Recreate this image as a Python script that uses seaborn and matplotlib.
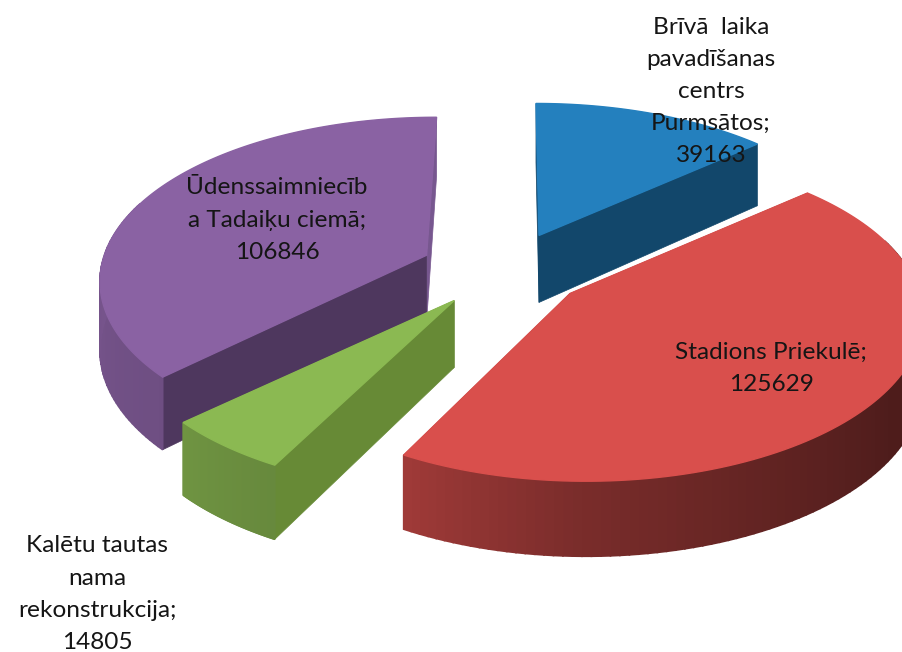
import numpy as np
import matplotlib
matplotlib.use("Agg")
import matplotlib.pyplot as plt
import seaborn as sns

# data
categories = [
    ["Brīvā  laika", "pavadīšanas", "centrs", "Purmsātos;"],
    ["Stadions Priekulē;"],
    ["Kalētu tautas", "nama", "rekonstrukcija;"],
    ["Ūdenssaimniecīb", "a Tadaiķu ciemā;"],
]
values = [39163, 125629, 14805, 106846]

top_colors = ["#2480BE", "#D94F4C", "#8BB952", "#8A62A3"]
start_face_colors = ["#12476B", "#8F2F2D", "#678A36", "#4E375E"]
end_face_colors = ["#12476B", "#8F2F2D", "#678A36", "#77578F"]

# layout of the fake 3d pie, in pixels
W, H = 902, 652
center = (504, 270)
explode = (84, 38)
radius_x, radius_y = 330, 158
persp = 0.197
depth = 67
rim_dx = [-3, 16, 3, 10]
rim_dy = [0, -9, -6, -6]
draw_order = [0, 3, 2, 1]
label_pos = [(711, 27), (771, 352), (97, 546), (277, 188)]
line_step = 32.2

# how bright the outer wall is, by angle clockwise from the top
shade_angle = [90, 125, 150, 180, 207, 226, 270, 320]
shade_value = [0.34, 0.36, 0.44, 0.56, 0.74, 0.80, 0.86, 0.90]


def project(apex, angle, dx, dy):
    x = np.sin(angle)
    y = np.cos(angle)
    p = 1 / (1 + persp * y)
    return apex[0] + radius_x * x * p + dx, apex[1] - radius_y * y * p + dy, depth * (1 - 0.12 * y)


def darker(color, f):
    rgb = np.array(matplotlib.colors.to_rgb(color))
    return tuple(rgb * f)


sns.set_theme(style="white")
plt.rcParams["font.family"] = ["Lato", "DejaVu Sans"]

fig, ax = plt.subplots(figsize=(W / 100, H / 100), dpi=100)
fig.subplots_adjust(0, 0, 1, 1)
palette = sns.color_palette(top_colors)

edges = np.radians(np.cumsum([0] + values) / sum(values) * 360)

for z, i in enumerate(draw_order):
    a0, a1 = edges[i], edges[i + 1]
    mid = (a0 + a1) / 2
    apex = (center[0] + explode[0] * np.sin(mid), center[1] - explode[1] * np.cos(mid))
    ang = np.linspace(a0, a1, 120)
    xs, ys, ds = project(apex, ang, rim_dx[i], rim_dy[i])

    # radial cut faces
    for a, col in ((a1, end_face_colors[i]), (a0, start_face_colors[i])):
        rx, ry, rd = project(apex, a, rim_dx[i], rim_dy[i])
        ax.fill([apex[0], rx, rx, apex[0]], [apex[1], ry, ry + rd, apex[1] + depth],
                color=col, lw=0.5, zorder=z * 3 + 1)

    # outer wall, split in small strips for the shading, only the part facing us
    for j in range(len(ang) - 1):
        if np.cos(ang[j]) > 0.3:
            continue
        f = np.interp(np.degrees(ang[j]), shade_angle, shade_value)
        ax.fill([xs[j], xs[j + 1], xs[j + 1], xs[j]],
                [ys[j], ys[j + 1], ys[j + 1] + ds[j + 1], ys[j] + ds[j]],
                color=darker(palette[i], f), lw=1.2, zorder=z * 3 + 2)

    # top of the slice
    ax.fill(np.r_[apex[0], xs], np.r_[apex[1], ys], color=palette[i], lw=1, zorder=z * 3 + 3)

# labels
for lines, val, (lx, ly) in zip(categories, values, label_pos):
    for n, txt in enumerate(lines + [str(val)]):
        ax.text(lx, ly + n * line_step, txt, ha="center", va="center",
                fontsize=17.6, color="#151515", zorder=50)

ax.set_xlim(0, W)
ax.set_ylim(H, 0)
ax.axis("off")
fig.savefig("out.png", dpi=100)
plt.close(fig)
